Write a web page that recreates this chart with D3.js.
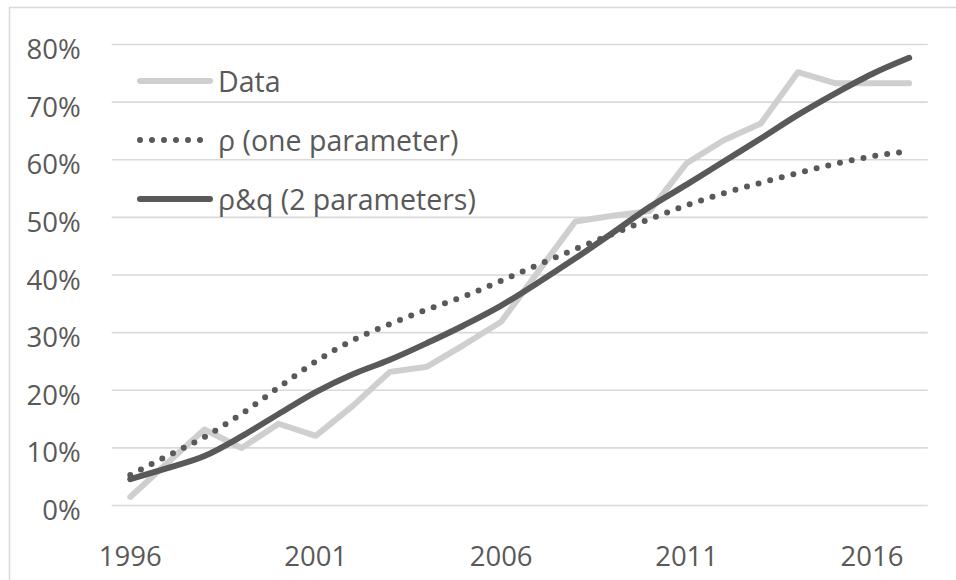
<!DOCTYPE html>
<html>
<head>
<meta charset="utf-8">
<script src="https://cdn.jsdelivr.net/npm/d3@7"></script>
<style>
  html, body { margin: 0; padding: 0; background: #ffffff; }
  svg { display: block; }
  text { font-family: "Open Sans", Lato, sans-serif; fill: #595959; }
</style>
</head>
<body>
<svg id="chart" width="956" height="580"></svg>
<script>
// Years shown on the category axis
const years = ["1996","1997","1998","1999","2000","2001","2002","2003","2004","2005","2006",
               "2007","2008","2009","2010","2011","2012","2013","2014","2015","2016","2017"];

// Observed share
const dataSeries = [1.4, 7.3, 13.1, 9.9, 14.1, 12.0, 17.2, 23.1, 24.0, 27.8, 31.8,
                    40.5, 49.2, 50.2, 51.0, 59.3, 63.3, 66.2, 75.1, 73.2, 73.2, 73.2];

// One-parameter fit (ρ)
const rhoSeries = [5.2, 8.5, 11.8, 15.8, 20.4, 24.9, 28.6, 31.4, 33.9, 36.2, 38.9,
                   41.7, 44.4, 47.0, 49.6, 52.0, 54.1, 55.9, 57.6, 59.2, 60.5, 61.4];

// Two-parameter fit (ρ&q)
const rhoQSeries = [4.5, 6.4, 8.5, 11.9, 15.8, 19.6, 22.7, 25.2, 28.1, 31.2, 34.6,
                    38.6, 42.8, 47.2, 51.7, 55.6, 59.6, 63.6, 67.7, 71.4, 74.8, 77.6];

// Y axis ticks (percent) and labelled years on the X axis
const yTicks = [0, 10, 20, 30, 40, 50, 60, 70, 80];
const xLabels = ["1996", "2001", "2006", "2011", "2016"];

const legendNames = ["Data", "ρ (one parameter)", "ρ&q (2 parameters)"];

const FONT = "'Open Sans', Lato, sans-serif";
const svg = d3.select("#chart");

// chart frame
svg.append("rect")
  .attr("x", 9.5).attr("y", 7.5)
  .attr("width", 980).attr("height", 600)
  .attr("fill", "none")
  .attr("stroke", "#d9d9d9")
  .attr("stroke-width", 1.5);

const plot = { left: 111.7, right: 927.7, top: 44, bottom: 505 };

const x = d3.scaleBand()
  .domain(years)
  .range([plot.left, plot.right]);

const y = d3.scaleLinear()
  .domain([0, 80])
  .range([plot.bottom, plot.top]);

const xc = d => x(d) + x.bandwidth() / 2;

// horizontal gridlines with percent labels
const yAxis = d3.axisLeft(y)
  .tickValues(yTicks)
  .tickSize(-(plot.right - plot.left))
  .tickPadding(31)
  .tickFormat(d => d + "%");

const gy = svg.append("g")
  .attr("transform", `translate(${plot.left},0)`)
  .call(yAxis);
gy.select(".domain").remove();
gy.selectAll(".tick line")
  .attr("stroke", "#d9d9d9")
  .attr("stroke-width", 1.6);
gy.selectAll(".tick text")
  .attr("font-size", 27.5)
  .attr("dy", 14.5)
  .attr("fill", "#595959")
  .style("font-family", FONT);

// year labels
const xAxis = d3.axisBottom(x)
  .tickValues(xLabels)
  .tickSize(0)
  .tickPadding(0);

const gx = svg.append("g")
  .attr("transform", `translate(0,${plot.bottom})`)
  .call(xAxis);
gx.select(".domain").remove();
gx.selectAll(".tick text")
  .attr("font-size", 27.5)
  .attr("y", 61)
  .attr("dy", 0)
  .attr("fill", "#595959")
  .style("font-family", FONT);

const line = d3.line()
  .x((d, i) => xc(years[i]))
  .y(d => y(d));

const smooth = d3.line()
  .x((d, i) => xc(years[i]))
  .y(d => y(d))
  .curve(d3.curveMonotoneX);

const styles = [
  { stroke: "#d0cece", dash: null },
  { stroke: "#595959", dash: "0 12" },
  { stroke: "#595959", dash: null }
];

// observed data
svg.append("path")
  .datum(dataSeries)
  .attr("d", line)
  .attr("fill", "none")
  .attr("stroke", styles[0].stroke)
  .attr("stroke-width", 6)
  .attr("stroke-linejoin", "round")
  .attr("stroke-linecap", "round");

// one-parameter fit
svg.append("path")
  .datum(rhoSeries)
  .attr("d", smooth)
  .attr("fill", "none")
  .attr("stroke", styles[1].stroke)
  .attr("stroke-width", 6)
  .attr("stroke-dasharray", styles[1].dash)
  .attr("stroke-linecap", "round");

// two-parameter fit
svg.append("path")
  .datum(rhoQSeries)
  .attr("d", smooth)
  .attr("fill", "none")
  .attr("stroke", styles[2].stroke)
  .attr("stroke-width", 6)
  .attr("stroke-linejoin", "round")
  .attr("stroke-linecap", "round");

// legend
const legend = svg.append("g");
legendNames.forEach((name, i) => {
  const ly = 81 + i * 59;
  legend.append("line")
    .attr("x1", 140).attr("x2", 210)
    .attr("y1", ly).attr("y2", ly)
    .attr("stroke", styles[i].stroke)
    .attr("stroke-width", 6)
    .attr("stroke-linecap", "round")
    .attr("stroke-dasharray", styles[i].dash);
  legend.append("text")
    .attr("x", 218)
    .attr("y", ly + 10.5)
    .attr("font-size", 28.5)
    .style("font-family", FONT)
    .text(name);
});
</script>
</body>
</html>
